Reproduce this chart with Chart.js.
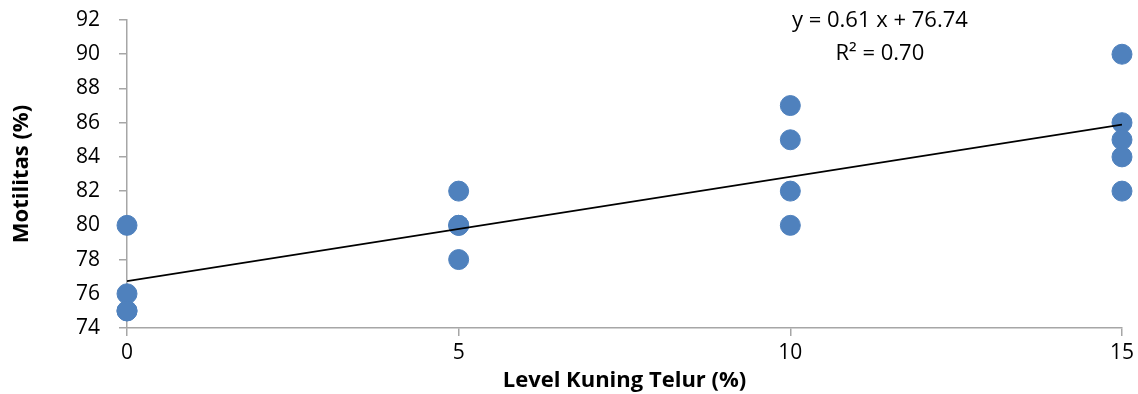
<!DOCTYPE html>
<html>
<head>
<meta charset="utf-8">
<script src="https://cdn.jsdelivr.net/npm/chart.js@4.4.1/dist/chart.umd.min.js"></script>
<style>
  html, body { margin: 0; padding: 0; background: #fff; }
  #wrap { width: 1138px; height: 394px; }
</style>
</head>
<body>
<div id="wrap"><canvas id="grafico"></canvas></div>
<script>
const levelKuning = [0, 0, 0, 0, 5, 5, 5, 5, 10, 10, 10, 10, 15, 15, 15, 15, 15];
const motilitas = [80, 76, 75, 75, 82, 80, 80, 78, 87, 85, 82, 80, 90, 86, 85, 84, 82];
const trenX = [0, 15];
const trenY = [76.74, 85.89];
const ticksX = [0, 5, 10, 15];
const ticksY = [74, 76, 78, 80, 82, 84, 86, 88, 90, 92];
const persamaan = ["y = 0.61 x + 76.74", "R² = 0.70"];

const fonte = "'Open Sans', 'Liberation Sans', sans-serif";
const abu = "#a6a6a6";

const tulisPersamaan = {
  id: "tulisPersamaan",
  afterDraw(chart) {
    const { ctx, scales } = chart;
    const x = scales.x.getPixelForValue(11.35);
    const y = scales.y.top + 1;
    ctx.save();
    ctx.fillStyle = "#000";
    ctx.font = "22px " + fonte;
    ctx.textAlign = "center";
    ctx.textBaseline = "middle";
    ctx.fillText(persamaan[0], x, y);
    ctx.fillText(persamaan[1], x, y + 33);
    ctx.restore();
  }
};

new Chart(document.getElementById("grafico"), {
  type: "scatter",
  data: {
    datasets: [
      {
        label: "Motilitas",
        data: levelKuning.map((x, i) => ({ x, y: motilitas[i] })),
        backgroundColor: "#4f81bd",
        borderColor: "#4f81bd",
        pointRadius: 10,
        pointHoverRadius: 10,
        clip: false,
        order: 2
      },
      {
        label: "Tren",
        type: "line",
        data: trenX.map((x, i) => ({ x, y: trenY[i] })),
        borderColor: "#000",
        borderWidth: 1.8,
        pointRadius: 0,
        fill: false,
        order: 1
      }
    ]
  },
  options: {
    responsive: true,
    maintainAspectRatio: false,
    animation: false,
    layout: { padding: { top: 20, right: 16, left: 0, bottom: 0 } },
    plugins: { legend: { display: false }, tooltip: { enabled: false } },
    scales: {
      x: {
        type: "linear",
        min: 0,
        max: 15,
        afterBuildTicks: (s) => { s.ticks = ticksX.map((v) => ({ value: v })); },
        afterFit: (s) => { s.height = 66; },
        grid: { drawOnChartArea: false, color: abu, tickLength: 8, lineWidth: 1.5 },
        border: { color: abu, width: 1.5 },
        ticks: { color: "#000", font: { family: fonte, size: 21 }, padding: 4 },
        title: { display: true, text: "Level Kuning Telur (%)", color: "#000", font: { family: fonte, size: 22, weight: "bold" }, padding: { top: 0, bottom: 0 } }
      },
      y: {
        min: 74,
        max: 92,
        afterBuildTicks: (s) => { s.ticks = ticksY.map((v) => ({ value: v })); },
        afterFit: (s) => { s.width = 127; s.paddingTop = 0; s.paddingBottom = 0; },
        grid: { drawOnChartArea: false, color: abu, tickLength: 8, lineWidth: 1.5 },
        border: { color: abu, width: 1.5 },
        ticks: { color: "#000", font: { family: fonte, size: 21 }, padding: 19 },
        title: { display: true, text: "Motilitas (%)", color: "#000", font: { family: fonte, size: 22, weight: "bold" }, padding: { top: 9, bottom: 0 } }
      }
    }
  },
  plugins: [tulisPersamaan]
});
</script>
</body>
</html>
